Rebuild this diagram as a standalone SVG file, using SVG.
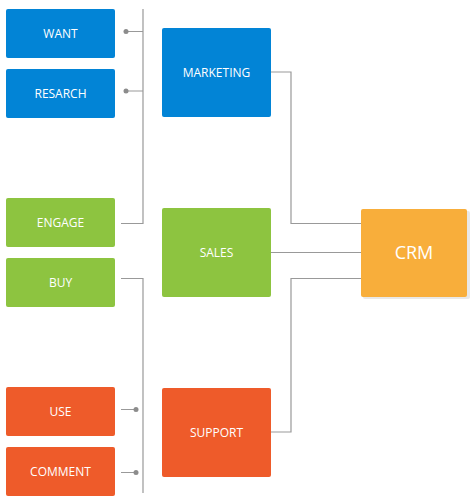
<svg xmlns="http://www.w3.org/2000/svg" width="475" height="504" viewBox="0 0 475 504">
<style>
.b{fill:#0284d6}.g{fill:#8dc440}.o{fill:#ee5b2a}
.t{font-family:"Open Sans","Noto Sans",sans-serif;font-size:12px;fill:#fff;text-anchor:middle}
.c{fill:none;stroke:#999;stroke-width:1.2}
.d{fill:#8c8c8c}
</style>
<rect width="475" height="504" fill="#fff"/>
<g id="connectors">
<path class="c" d="M143 9V223.5H121M143 31.5H126M143 91H126"/>
<path class="c" d="M143 493V278.5H121M121 409.5H136M121 472.5H136"/>
<path class="c" d="M271 72H291V223.5H361M271 252.5H361M271 432H291V278.5H361"/>
<circle class="d" cx="126" cy="31.5" r="2.5"/>
<circle class="d" cx="126" cy="91" r="2.5"/>
<circle class="d" cx="136" cy="409.5" r="2.5"/>
<circle class="d" cx="136" cy="472.5" r="2.5"/>
</g>
<g id="want"><rect class="b" x="6" y="9" width="109" height="49" rx="2"/><text class="t" x="60.5" y="37.5">WANT</text></g>
<g id="resarch"><rect class="b" x="6" y="69" width="109" height="49" rx="2"/><text class="t" x="60.5" y="97.5">RESARCH</text></g>
<g id="engage"><rect class="g" x="6" y="198" width="109" height="49" rx="2"/><text class="t" x="60.5" y="226.5">ENGAGE</text></g>
<g id="buy"><rect class="g" x="6" y="258" width="109" height="49" rx="2"/><text class="t" x="60.5" y="286.5">BUY</text></g>
<g id="use"><rect class="o" x="6" y="387" width="109" height="49" rx="2"/><text class="t" x="60.5" y="415.5">USE</text></g>
<g id="comment"><rect class="o" x="6" y="447" width="109" height="49" rx="2"/><text class="t" x="60.5" y="475.5">COMMENT</text></g>
<g id="marketing"><rect class="b" x="162" y="28" width="109" height="89" rx="2"/><text class="t" x="216.5" y="76.5">MARKETING</text></g>
<g id="sales"><rect class="g" x="162" y="208" width="109" height="89" rx="2"/><text class="t" x="216.5" y="256.5">SALES</text></g>
<g id="support"><rect class="o" x="162" y="388" width="109" height="89" rx="2"/><text class="t" x="216.5" y="436.5">SUPPORT</text></g>
<g id="crm">
<rect x="363" y="211" width="107" height="88" rx="2" fill="#e8e8e8"/>
<rect x="361" y="209" width="106" height="88" rx="2" fill="#f8ae3b"/>
<text class="t" x="414" y="259" style="font-size:18px">CRM</text>
</g>
</svg>
